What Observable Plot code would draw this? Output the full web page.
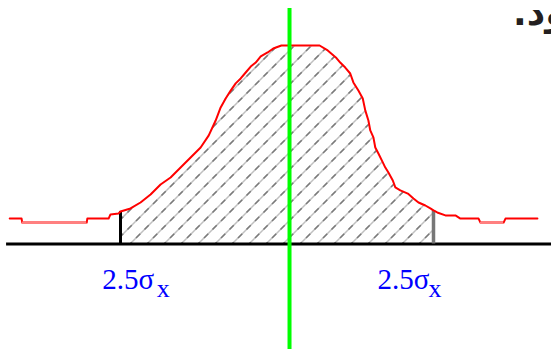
<!DOCTYPE html>
<html><head><meta charset="utf-8">
<script src="https://cdn.jsdelivr.net/npm/d3@7"></script>
<script src="https://cdn.jsdelivr.net/npm/@observablehq/plot@0.6"></script>
<style>body{margin:0;background:#fff;} svg{display:block}</style>
</head><body><div id="chart"></div>
<script>
// x in units of sigma (boundaries at ±2.5), y relative to peak height
const curveX = [-4.27,-4.08,-4.07,-3.04,-3.03,-2.69,-2.66,-2.53,-2.50,-2.34,-2.18,-2.02,-1.86,-1.70,-1.54,-1.38,-1.22,-1.09,-0.98,-0.90,-0.82,-0.74,-0.66,-0.58,-0.50,-0.42,-0.34,-0.26,-0.15,-0.06,0.07,0.68,0.81,0.94,1.01,1.09,1.17,1.22,1.30,1.37,1.41,1.46,1.49,1.54,1.57,1.62,1.69,1.73,1.78,1.85,1.89,1.97,2.09,2.18,2.26,2.37,2.45,2.50,2.56,2.69,2.85,2.93,3.22,3.25,3.62,3.65,4.16];
const curveY = [0.128,0.128,0.108,0.108,0.128,0.128,0.149,0.154,0.164,0.179,0.209,0.249,0.300,0.335,0.385,0.436,0.486,0.547,0.622,0.688,0.733,0.773,0.809,0.834,0.864,0.894,0.914,0.945,0.965,0.985,1.0,1.0,0.975,0.940,0.914,0.889,0.859,0.814,0.773,0.733,0.673,0.622,0.572,0.537,0.486,0.456,0.411,0.385,0.360,0.320,0.285,0.270,0.254,0.229,0.209,0.194,0.179,0.169,0.159,0.144,0.144,0.128,0.128,0.108,0.108,0.128,0.128];
const pinkX1 = [-4.07, 3.25];
const pinkX2 = [-3.04, 3.62];
const pinkY = [0.108, 0.108];
const boundLeft = -2.5, boundRight = 2.5;
const boundTopLeft = 0.164, boundTopRight = 0.169;
const meanX = 0.2, meanTop = 1.186, meanBottom = -0.54;
const baseStart = -4.32, baseEnd = 4.4;
const labelText = ["2.5σ", "2.5σ"];
const labelX = [-2.79, 1.605];
const labelY = [-0.229, -0.229];
const subText = ["x", "x"];
const subX = [-1.92, 2.42];
const subY = [-0.2695, -0.2695];
const cornerText = ["ود.\u200F"];
const cornerX = [3.77];
const cornerY = [1.101];

const curve = curveX.map((x, i) => ({x, y: curveY[i]}));
const hatch = curve.filter(d => d.x >= boundLeft && d.x <= boundRight);
const pink = pinkX1.map((x1, i) => ({x1, x2: pinkX2[i], y: pinkY[i]}));
const labels = labelText.map((t, i) => ({t, x: labelX[i], y: labelY[i]}));
const subs = subText.map((t, i) => ({t, x: subX[i], y: subY[i]}));
const corner = cornerText.map((t, i) => ({t, x: cornerX[i], y: cornerY[i]}));

const plot = Plot.plot({
  width: 551, height: 349, margin: 0,
  x: {domain: [-4.417, 4.385], axis: null},
  y: {domain: [-0.5315, 1.2267], axis: null},
  marks: [
    Plot.areaY(hatch, {x: "x", y1: 0, y2: "y", fill: "url(#hatch)"}),
    Plot.ruleY([0], {x1: baseStart, x2: baseEnd, stroke: "black", strokeWidth: 3}),
    Plot.ruleX([boundLeft], {y1: 0, y2: boundTopLeft, stroke: "black", strokeWidth: 3}),
    Plot.ruleX([boundRight], {y1: 0, y2: boundTopRight, stroke: "#777", strokeWidth: 3.5}),
    Plot.line(curve, {x: "x", y: "y", stroke: "#ff0000", strokeWidth: 2}),
    Plot.ruleY(pink, {x1: "x1", x2: "x2", y: "y", stroke: "#ff8080", strokeWidth: 2}),
    Plot.ruleX([meanX], {y1: meanBottom, y2: meanTop, stroke: "#00ff00", strokeWidth: 4}),
    Plot.text(labels, {x: "x", y: "y", text: "t", textAnchor: "start", lineAnchor: "bottom", fill: "#0000ff", fontSize: 29, fontFamily: "Liberation Serif"}),
    Plot.text(subs, {x: "x", y: "y", text: "t", textAnchor: "start", lineAnchor: "bottom", fill: "#0000ff", fontSize: 26, fontFamily: "Liberation Serif"}),
    Plot.text(corner, {x: "x", y: "y", text: "t", textAnchor: "start", lineAnchor: "bottom", fill: "#231f20", fontSize: 36, fontWeight: "bold", fontFamily: "DejaVu Sans"})
  ]
});
const svg = plot.tagName.toLowerCase() === "svg" ? plot : plot.querySelector("svg");
const ns = "http://www.w3.org/2000/svg";
const defs = document.createElementNS(ns, "defs");
defs.innerHTML = `<pattern id="hatch" patternUnits="userSpaceOnUse" width="17" height="17">
<path d="M-4.25,4.25L4.25,-4.25M0,17L17,0M12.75,21.25L21.25,12.75" stroke="#c0c0c0" stroke-width="1.5" fill="none"/>
<path d="M-4.25,4.25L4.25,-4.25M0,17L17,0M12.75,21.25L21.25,12.75" stroke="#7a7a7a" stroke-width="1.5" stroke-dasharray="6 6" fill="none"/>
</pattern>`;
svg.insertBefore(defs, svg.firstChild);
document.getElementById("chart").appendChild(plot);
</script>
</body></html>
